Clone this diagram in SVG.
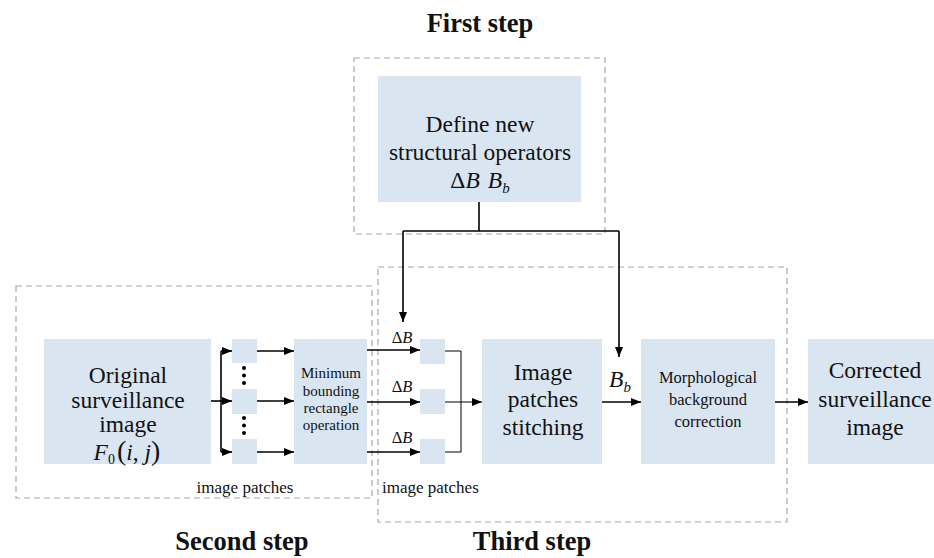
<svg xmlns="http://www.w3.org/2000/svg" width="934" height="558" viewBox="0 0 934 558" font-family="'Liberation Serif', 'DejaVu Serif', 'Times New Roman', serif">
<defs>
<marker id="ah" markerWidth="10" markerHeight="8" refX="10" refY="4" orient="auto" markerUnits="userSpaceOnUse">
<path d="M0,0 L10,4 L0,8 Z" fill="#000"/>
</marker>
</defs>
<style>
text{fill:#111}
.box{fill:#d9e6f2;stroke:none}
.step{fill:none;stroke:#a8a8a8;stroke-width:1.2;stroke-dasharray:6 4}
.title{font-size:26.5px;font-weight:bold;text-anchor:middle}
.big{font-size:23.5px;text-anchor:middle}
.small{font-size:15px;text-anchor:middle}
.mid{font-size:16.5px;text-anchor:middle}
.lbl{font-size:17px}
.db{font-size:16.5px;text-anchor:middle}
.it{font-style:italic}
.arr{fill:none;stroke:#000;stroke-width:1.6}
.thin{fill:none;stroke:#000;stroke-width:1}
</style>
<rect width="934" height="558" fill="#fff"/>

<!-- step frames -->
<g id="frames">
<rect class="step" x="354" y="58" width="251" height="176"/>
<rect class="step" x="16" y="286" width="356" height="212"/>
<rect class="step" x="378" y="267" width="409" height="255"/>
<text class="title" x="242" y="550">Second step</text>
<text class="title" x="532" y="550">Third step</text>
<text class="title" x="480" y="32">First step</text>
</g>

<g id="define">
<rect class="box" x="378" y="76" width="203" height="126"/>
<text class="big" x="480" y="132">Define new</text>
<text class="big" x="480" y="160">structural operators</text>
<text class="big" x="480" y="188"><tspan>Δ</tspan><tspan class="it">B</tspan><tspan dx="8" class="it">B</tspan><tspan class="it" font-size="15" dy="5">b</tspan></text>
</g>

<g id="original">
<rect class="box" x="44" y="339" width="167" height="125"/>
<text class="big" x="128" y="383">Original</text>
<text class="big" x="128" y="408">surveillance</text>
<text class="big" x="128" y="432">image</text>
<text class="big" x="127" y="460"><tspan class="it">F</tspan><tspan font-size="14" dy="4">0</tspan><tspan dy="-4" dx="2" font-size="28">(</tspan><tspan class="it">i</tspan><tspan>, </tspan><tspan class="it">j</tspan><tspan font-size="28">)</tspan></text>
</g>

<g id="patches-a">
<rect class="box" x="232" y="339" width="25" height="24"/>
<rect class="box" x="232" y="389" width="25" height="25"/>
<rect class="box" x="232" y="439" width="25" height="25"/>
<g fill="#000">
<circle cx="244" cy="368" r="2"/><circle cx="244" cy="375.5" r="2"/><circle cx="244" cy="383" r="2"/>
<circle cx="244" cy="418" r="2"/><circle cx="244" cy="425.5" r="2"/><circle cx="244" cy="433" r="2"/>
</g>
<text class="lbl" x="245" y="493" text-anchor="middle">image patches</text>
</g>

<g id="mbr">
<rect class="box" x="294" y="339" width="73" height="125"/>
<text class="small" x="331" y="378">Minimum</text>
<text class="small" x="331" y="396">bounding</text>
<text class="small" x="331" y="413">rectangle</text>
<text class="small" x="331" y="430">operation</text>
</g>

<g id="patches-b">
<rect class="box" x="420" y="339" width="25" height="25"/>
<rect class="box" x="420" y="389" width="25" height="25"/>
<rect class="box" x="420" y="439" width="25" height="25"/>
<text class="lbl" x="382" y="493">image patches</text>
</g>

<g id="stitch">
<rect class="box" x="482" y="339" width="120" height="125"/>
<text class="big" x="543" y="380">Image</text>
<text class="big" x="543" y="407">patches</text>
<text class="big" x="543" y="435">stitching</text>
</g>

<g id="morph">
<rect class="box" x="641" y="339" width="134" height="125"/>
<text class="mid" x="708" y="383">Morphological</text>
<text class="mid" x="708" y="405">background</text>
<text class="mid" x="708" y="427">correction</text>
</g>

<g id="corrected">
<rect class="box" x="808" y="339" width="126" height="125"/>
<text class="big" x="875" y="378">Corrected</text>
<text class="big" x="875" y="407">surveillance</text>
<text class="big" x="875" y="435">image</text>
</g>

<g id="connectors">
<!-- operator distribution -->
<path class="arr" d="M479,202 V231"/>
<path class="arr" d="M403,231 H619"/>
<path class="arr" d="M403,231 V322" marker-end="url(#ah)"/>
<path class="arr" d="M619,231 V357" marker-end="url(#ah)"/>
<!-- split into patches -->
<path class="arr" d="M211,401 H221"/>
<path class="arr" d="M221,351 V452"/>
<path class="arr" d="M221,351 H232" marker-end="url(#ah)"/>
<path class="arr" d="M221,401 H232" marker-end="url(#ah)"/>
<path class="arr" d="M221,452 H232" marker-end="url(#ah)"/>
<path class="arr" d="M257,351 H294" marker-end="url(#ah)"/>
<path class="arr" d="M257,401 H294" marker-end="url(#ah)"/>
<path class="arr" d="M257,452 H294" marker-end="url(#ah)"/>
<!-- bounded patches with ΔB -->
<path class="arr" d="M367,350 H420" marker-end="url(#ah)"/>
<path class="arr" d="M367,402 H420" marker-end="url(#ah)"/>
<path class="arr" d="M367,452 H420" marker-end="url(#ah)"/>
<text class="db" x="402" y="343">Δ<tspan class="it">B</tspan></text>
<text class="db" x="402" y="392">Δ<tspan class="it">B</tspan></text>
<text class="db" x="402" y="443">Δ<tspan class="it">B</tspan></text>
<!-- merge -->
<path class="thin" d="M445,351 H461 V452 H445"/>
<path class="thin" d="M445,402 H482" marker-end="url(#ah)"/>
<!-- to correction and output -->
<path class="arr" d="M602,402 H641" marker-end="url(#ah)"/>
<text class="big" x="620" y="387" font-size="24"><tspan class="it">B</tspan><tspan class="it" font-size="15" dy="5">b</tspan></text>
<path class="arr" d="M775,402 H808" marker-end="url(#ah)"/>
</g>
</svg>
